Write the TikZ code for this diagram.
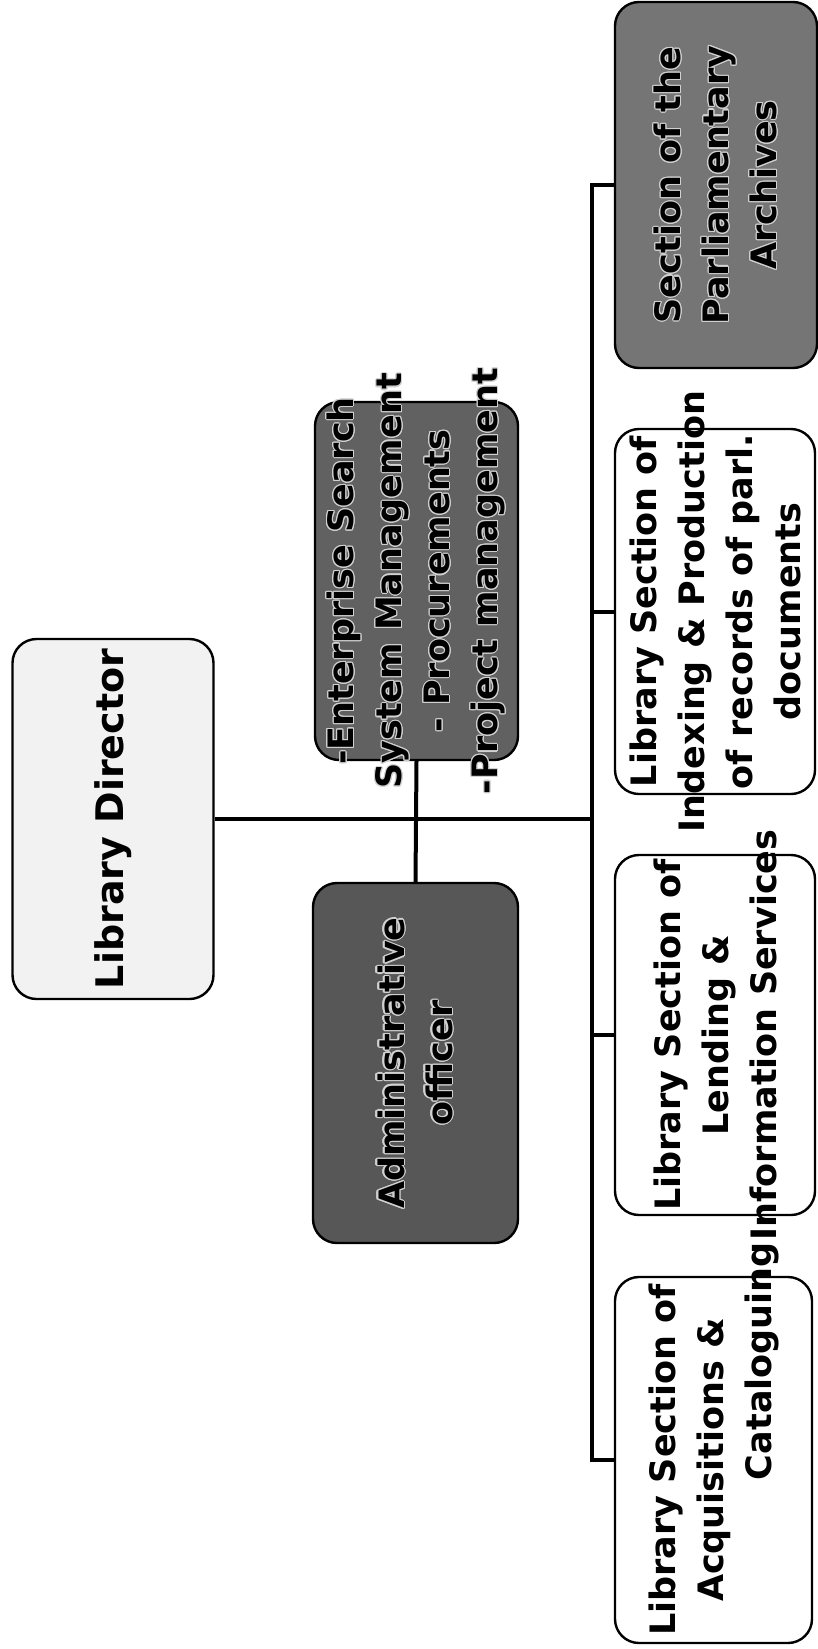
\documentclass[tikz,border=0pt]{standalone}
\usepackage{fontspec}
\setmainfont{DejaVu Sans}
\usepackage[copies]{contour}
\contourlength{1.1pt}
\newcommand{\zl}[1]{\makebox[0pt]{#1}}
\newcommand{\hl}[1]{\makebox[0pt]{\contour{black!18}{#1}}}
\definecolor{admgray}{gray}{0.34}
\definecolor{entgray}{gray}{0.38}
\definecolor{arcgray}{gray}{0.46}
\definecolor{dirfill}{gray}{0.95}
\begin{document}
\begin{tikzpicture}[x=1pt,y=-1pt,
  box/.style={draw=black, line width=2.4pt, rounded corners=24pt, rotate=90, align=center, inner sep=0pt},
  txt/.style={font=\bfseries\fontsize{35}{48}\selectfont},
  conn/.style={line width=4pt}]
\useasboundingbox (0,0) rectangle (818,1649);
\fill[white] (0,0) rectangle (818,1649);

\node[box, fill=dirfill, minimum width=360pt, minimum height=201pt,
      font=\bfseries\fontsize{38}{46}\selectfont] (dir) at (113,819) {\zl{Library Director}};

\node[box, txt, fill=entgray, minimum width=358pt, minimum height=203pt] (ent) at (416.5,581)
  {\hl{-Enterprise Search}\\\hl{System Management}\\\hl{- Procurements}\\\hl{-Project management}};

\node[box, txt, fill=admgray, minimum width=360pt, minimum height=205pt] (adm) at (415.5,1063)
  {\hl{Administrative}\\\hl{officer}};

\node[box, txt, fill=arcgray, minimum width=366pt, minimum height=202pt] (arc) at (716,185)
  {\hl{Section of the}\\\hl{Parliamentary}\\\hl{Archives}};

\node[box, txt, fill=white, minimum width=365pt, minimum height=200pt] (idx) at (715,611.5)
  {\zl{Library Section of}\\\zl{Indexing \& Production}\\\zl{of records of parl.}\\\zl{documents}};

\node[box, txt, fill=white, minimum width=360pt, minimum height=200pt] (lend) at (715,1035)
  {\zl{Library Section of}\\\zl{Lending \&}\\\zl{Information Services}};

\node[box, txt, fill=white, minimum width=366pt, minimum height=197pt] (acq) at (713.5,1460)
  {\zl{Library Section of}\\\zl{Acquisitions \&}\\\makebox[0pt][l]{\hspace*{-20pt}Cataloguing}};

\coordinate (bt) at (592,185);
\draw[conn] (arc.north) -- (arc.north -| bt) -- (acq.north -| bt) -- (acq.north);
\draw[conn] (idx.north) -- (idx.north -| bt);
\draw[conn] (lend.north) -- (lend.north -| bt);
\draw[conn] (dir.south) -- (dir.south -| bt);
\draw[conn] (ent.west) -- (adm.east);
\end{tikzpicture}
\end{document}
